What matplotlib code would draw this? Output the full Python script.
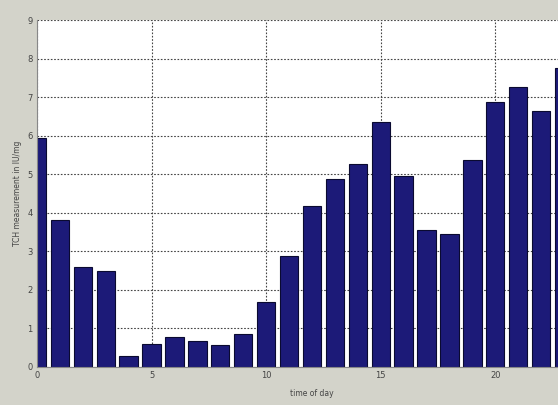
import numpy as np
import matplotlib
matplotlib.use('Agg')
from matplotlib import pyplot as plt

# hourly TCH readings
hours = list(range(24))
tch = [5.93, 3.80, 2.60, 2.48, 0.28, 0.60, 0.78, 0.68, 0.57, 0.86,
       1.68, 2.87, 4.17, 4.87, 5.26, 6.35, 4.95, 3.55, 3.45, 5.36,
       6.87, 7.25, 6.65, 7.75]
xticks = [0, 5, 10, 15, 20]
yticks = list(range(10))

fig = plt.figure(figsize=(5.58, 4.05), dpi=100)
fig.patch.set_facecolor('#d3d3ca')

# axes run off the right edge of the figure
ax = fig.add_axes([37 / 558, 38 / 405, 550 / 558, 347 / 405])
ax.set_facecolor('white')
ax.bar(hours, tch, width=0.8, color='#1c1a78', edgecolor='#0a0a30', linewidth=0.8, zorder=2)

ax.set_xlim(0, 24)
ax.set_ylim(0, 9)
ax.set_xticks(xticks)
ax.set_yticks(yticks)
ax.tick_params(labelsize=6, length=0, pad=3, colors='#444444')
ax.grid(True, linestyle=(0, (1.5, 1.5)), color='#444444', linewidth=0.8, zorder=1)
ax.set_axisbelow(True)
for side in ['top', 'right']:
    ax.spines[side].set_visible(False)
ax.spines['left'].set_color('#888888')
ax.spines['bottom'].set_color('#888888')

ax.set_xlabel('time of day', fontsize=5.5, color='#444444', labelpad=6)
ax.set_ylabel('TCH measurement in IU/mg', fontsize=5.5, color='#444444', labelpad=4)

fig.savefig('out.png', dpi=100, facecolor=fig.get_facecolor())
